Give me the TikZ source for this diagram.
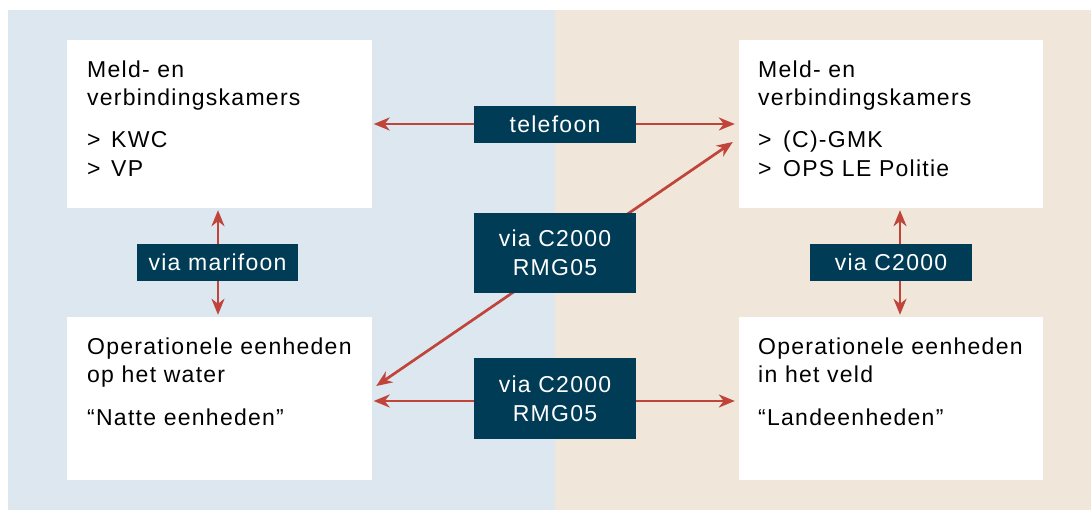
\documentclass[tikz,border=0pt]{standalone}
\usepackage{fontspec}
\setmainfont{Liberation Sans}[LetterSpace=5.5]
\usetikzlibrary{arrows.meta}
\definecolor{bgblue}{RGB}{221,231,240}
\definecolor{bgbeige}{RGB}{240,230,218}
\definecolor{navy}{RGB}{0,60,86}
\definecolor{arrred}{RGB}{192,68,58}
\tikzset{
  box/.style={fill=white, draw=none, inner sep=0pt, minimum width=305bp, minimum height=168bp},
  txt/.style={anchor=base west, inner sep=0pt, font=\fontsize{23bp}{28.5bp}\selectfont, text=black},
  lab/.style={fill=navy, draw=none, inner sep=0pt, minimum width=162bp, text=white, align=center,
              font=\fontsize{23bp}{28.5bp}\selectfont},
  conn/.style={draw=arrred, line width=2.7bp, {Stealth[length=16bp,width=13bp,inset=5bp]}-{Stealth[length=16bp,width=13bp,inset=5bp]}}
}
\begin{document}
\begin{tikzpicture}[x=1bp,y=-1bp]
\useasboundingbox (0,0) rectangle (1091,510);
\fill[bgblue] (8,10) rectangle (555,510);
\fill[bgbeige] (555,10) rectangle (1091,510);

% boxes
\node[box] (tl) at (219.5,124) {};
\node[box, minimum height=163bp] (bl) at (219.5,398.5) {};
\node[box, minimum width=304bp] (tr) at (891,124) {};
\node[box, minimum width=304bp, minimum height=163bp] (br) at (891,398.5) {};

% texts top-left
\node[txt] (tla) at (87,77.7) {Meld- en};
\node[txt] (tlb) at (87,106) {verbindingskamers};
\node[txt] (tlc1) at (87,148) {>};
\node[txt] (tlc) at (111,148) {KWC};
\node[txt] (tld1) at (87,177) {>};
\node[txt] (tld) at (111,177) {VP};

% texts bottom-left
\node[txt] (bla) at (87,355) {Operationele eenheden};
\node[txt] (blb) at (87,383) {op het water};
\node[txt] (blc) at (87,425) {“Natte eenheden”};

% texts top-right
\node[txt] (tra) at (758,77.7) {Meld- en};
\node[txt] (trb) at (758,106) {verbindingskamers};
\node[txt] (trc1) at (758,148) {>};
\node[txt] (trc) at (783,148) {(C)-GMK};
\node[txt] (trd1) at (758,177) {>};
\node[txt] (trd) at (783,177) {OPS LE Politie};

% texts bottom-right
\node[txt] (bra) at (758,355) {Operationele eenheden};
\node[txt] (brb) at (758,383) {in het veld};
\node[txt] (brc) at (758,425) {“Landeenheden”};

% connectors
\draw[conn] ([xshift=1.5bp]tl.east) -- ([xshift=-4bp]tr.west);
\draw[conn] ([xshift=4bp,yshift=12.5bp]bl.east) -- ([xshift=-6bp,yshift=-18bp]tr.west);
\draw[conn] ([xshift=1.5bp,yshift=-2.5bp]bl.east) -- ([xshift=-4bp,yshift=-2.5bp]br.west);
\draw[conn] ([xshift=-1.5bp,yshift=-2bp]tl.south) -- ([xshift=-1.5bp,yshift=2bp]bl.north);
\draw[conn] ([xshift=9bp,yshift=-2bp]tr.south) -- ([xshift=9bp,yshift=2bp]br.north);

% labels
\node[lab, minimum height=37bp] (tel) at (555,124.5) {telefoon};
\node[lab, minimum height=80bp] (c2a) at (555,253) {via C2000\\RMG05};
\node[lab, minimum height=80.7bp] (c2b) at (555,398.7) {via C2000\\RMG05};
\node[lab, minimum width=161bp, minimum height=37bp] (mar) at (217.5,262.5) {via marifoon};
\node[lab, minimum width=162bp, minimum height=37bp] (c2c) at (891,262.5) {via C2000};
\end{tikzpicture}
\end{document}
